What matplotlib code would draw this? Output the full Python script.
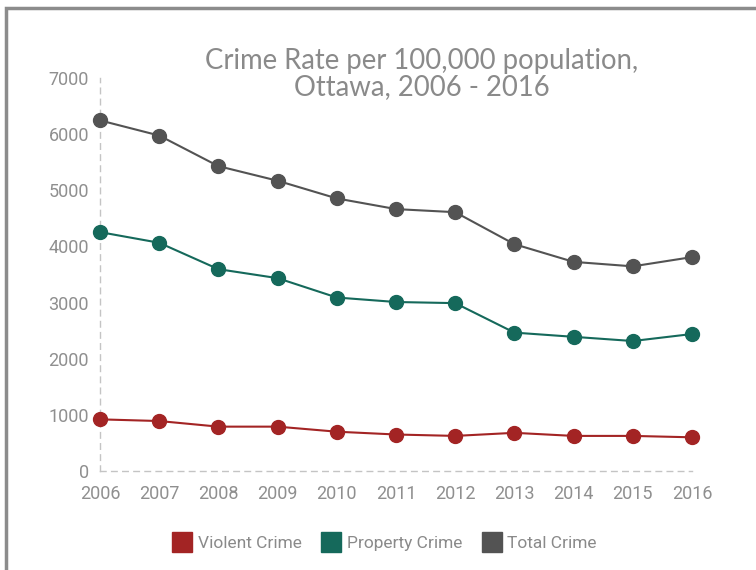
import matplotlib.pyplot as plt
from matplotlib.lines import Line2D
from matplotlib.patches import Rectangle

years = [2006, 2007, 2008, 2009, 2010, 2011, 2012, 2013, 2014, 2015, 2016]
violent = [920, 890, 790, 790, 700, 650, 625, 680, 625, 625, 600]
property_crime = [4255, 4065, 3595, 3435, 3090, 3010, 2990, 2465, 2390, 2315, 2440]
total = [6245, 5975, 5430, 5170, 4855, 4665, 4610, 4040, 3725, 3645, 3810]
series_names = ['Violent Crime', 'Property Crime', 'Total Crime']
colors = ['#a32424', '#15695b', '#535353']
title = 'Crime Rate per 100,000 population,\nOttawa, 2006 - 2016'


def main():
    fig = plt.figure(figsize=(7.56, 5.70), dpi=100)
    ax = fig.add_axes([100 / 756, 1 - 471 / 570, 592 / 756, 393 / 570])

    # outer frame
    fig.patches.append(Rectangle((6 / 756, -0.05), 1.1, 1.05 - 8 / 570,
                                 transform=fig.transFigure, fill=False,
                                 edgecolor='#8c8c8c', linewidth=2.5))

    for vals, c in zip([total, property_crime, violent], [colors[2], colors[1], colors[0]]):
        ax.plot(years, vals, color=c, linewidth=1.5, marker='o', markersize=10,
                clip_on=False, zorder=3)

    ax.set_xlim(2006, 2016)
    ax.set_ylim(0, 7000)
    ax.set_xticks(years)
    ax.set_yticks(range(0, 7001, 1000))
    for s in ['top', 'right']:
        ax.spines[s].set_visible(False)
    for s in ['left', 'bottom']:
        ax.spines[s].set_linestyle((0, (4, 4)))
        ax.spines[s].set_color('#c4c4c4')
        ax.spines[s].set_linewidth(1)
    ax.tick_params(length=0, labelsize=13, labelcolor='#8f8f8f')
    ax.tick_params(axis='x', pad=10)
    ax.tick_params(axis='y', pad=8)
    for lab in ax.get_xticklabels() + ax.get_yticklabels():
        lab.set_fontfamily('Roboto')

    fig.text(422 / 756, 1 - 74 / 570, title, ha='center', va='center',
             fontsize=19.8, color='#8a8a8a', family='Lato', linespacing=1.0)

    handles = [Line2D([], [], linestyle='none', marker='s', markersize=14,
                      color=c) for c in colors]
    fig.legend(handles, series_names, loc='center', bbox_to_anchor=(385 / 756, 1 - 543 / 570),
               ncol=3, frameon=False, handletextpad=0.4, columnspacing=1.2,
               prop={'family': 'Roboto', 'size': 12.5}, labelcolor='#8a8a8a',
               handlelength=1.0)

    fig.savefig('out.png', dpi=100)


if __name__ == "__main__":
    main()
